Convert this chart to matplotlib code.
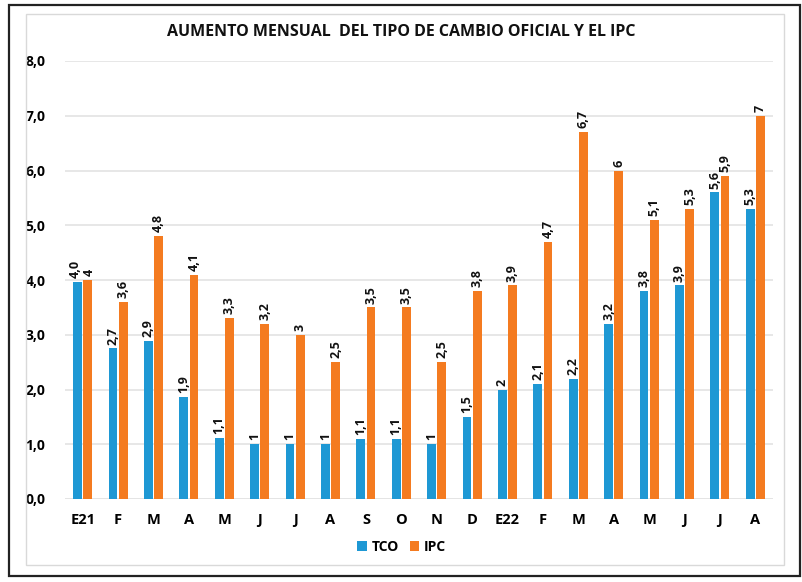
import matplotlib
matplotlib.use("Agg")
import matplotlib.pyplot as plt
from matplotlib.patches import Rectangle
from matplotlib.transforms import offset_copy
import numpy as np

categories = ["E21", "F", "M", "A", "M", "J", "J", "A", "S", "O", "N", "D",
              "E22", "F", "M", "A", "M", "J", "J", "A"]
tco = [3.97, 2.75, 2.88, 1.87, 1.12, 1.0, 1.0, 1.0, 1.1, 1.1, 1.0, 1.5,
       2.0, 2.1, 2.2, 3.2, 3.8, 3.9, 5.6, 5.3]
ipc = [4.0, 3.6, 4.8, 4.1, 3.3, 3.2, 3.0, 2.5, 3.5, 3.5, 2.5, 3.8,
       3.9, 4.7, 6.7, 6.0, 5.1, 5.3, 5.9, 7.0]
tco_labels = ["4,0", "2,7", "2,9", "1,9", "1,1", "1", "1", "1", "1,1", "1,1", "1", "1,5",
              "2", "2,1", "2,2", "3,2", "3,8", "3,9", "5,6", "5,3"]
ipc_labels = ["4", "3,6", "4,8", "4,1", "3,3", "3,2", "3", "2,5", "3,5", "3,5", "2,5", "3,8",
              "3,9", "4,7", "6,7", "6", "5,1", "5,3", "5,9", "7"]
yticks = [0, 1, 2, 3, 4, 5, 6, 7, 8]
ytick_labels = ["0,0", "1,0", "2,0", "3,0", "4,0", "5,0", "6,0", "7,0", "8,0"]

blue = "#1e98d4"
orange = "#f47b20"

plt.rcParams['font.family'] = ['Open Sans', 'DejaVu Sans']

fig = plt.figure(figsize=(8.03, 5.82), dpi=100)
# outer border and inner light border
fig.patches.append(Rectangle((9/803, 1-576/582), 791/803, 571/582, transform=fig.transFigure,
                             fill=False, edgecolor="#222222", linewidth=1.6))
fig.patches.append(Rectangle((26/803, 1-565/582), 758/803, 551/582, transform=fig.transFigure,
                             fill=False, edgecolor="#d9d9d9", linewidth=1.0))

ax = fig.add_axes([65/803, 1-499/582, 708/803, 438/582])
x = np.arange(len(categories))
w = 0.25
gap = 0.035
ax.bar(x - w/2 - gap/2, tco, width=w, color=blue, label="TCO", zorder=3)
ax.bar(x + w/2 + gap/2, ipc, width=w, color=orange, label="IPC", zorder=3)

left_shift = offset_copy(ax.transData, fig=fig, x=-2, y=0, units="dots")
right_shift = offset_copy(ax.transData, fig=fig, x=2, y=0, units="dots")
for i in range(len(categories)):
    close = abs(tco[i] - ipc[i]) < 0.2
    ax.text(x[i] - w/2 - gap/2, tco[i] + 0.07, tco_labels[i], rotation=90, ha="center", va="bottom",
            fontsize=9, fontweight="bold", color="#111111",
            transform=left_shift if close else ax.transData)
    ax.text(x[i] + w/2 + gap/2, ipc[i] + 0.07, ipc_labels[i], rotation=90, ha="center", va="bottom",
            fontsize=9, fontweight="bold", color="#111111",
            transform=right_shift if close else ax.transData)

ax.set_xlim(-0.5, len(categories) - 0.5)
ax.set_ylim(0, 8)
ax.set_yticks(yticks)
ax.set_yticklabels(ytick_labels, fontsize=10, fontweight="bold")
ax.set_xticks(x)
ax.set_xticklabels(categories, fontsize=10.5, fontweight="bold")
ax.tick_params(axis="both", length=0, pad=10)
ax.tick_params(axis="y", pad=14)
ax.grid(axis="y", color="#e3e3e3", linewidth=1.2, zorder=0)
for s in ax.spines.values():
    s.set_visible(False)
ax.axhline(0, color="#d9d9d9", linewidth=1.0, zorder=2)

fig.text(0.5, 1-32/582, "AUMENTO MENSUAL  DEL TIPO DE CAMBIO OFICIAL Y EL IPC", ha="center", va="center",
         fontsize=11.5, fontweight="bold", color="#111111")

fig.legend(loc="center", bbox_to_anchor=(0.5, 1-547/582), ncol=2, frameon=False,
           prop={"weight": "bold", "size": 10}, handlelength=0.7, handleheight=0.7,
           handletextpad=0.3, columnspacing=0.8)

fig.savefig("out.png", dpi=100)
